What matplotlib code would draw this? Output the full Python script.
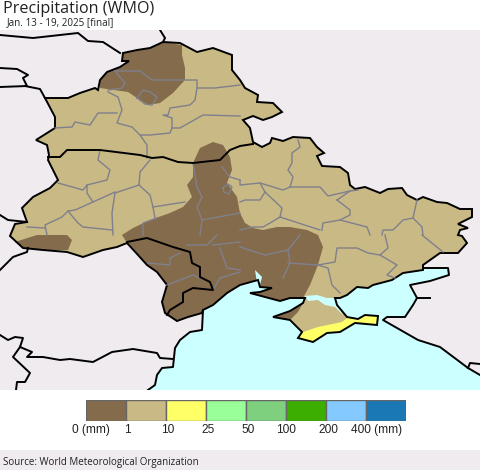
import matplotlib
matplotlib.use("Agg")
import matplotlib.pyplot as plt
from matplotlib.patches import Polygon, Rectangle

# map outlines (map pixel coordinates)
north_border = [(98,90),(100,80),(107,72),(120,67),(129,61),(122,61),(123,53),(137,50),(150,48),(163,42),(180,43),
    (197,52),(213,48),(232,55),(232,70),(240,80),(245,88),(258,95),(257,102),(273,103),(282,112),(272,117),(263,120),
    (253,116),(243,120),(250,128),(253,142),(262,147),(270,143),(272,138),(283,141),(293,137),(310,138),(317,147),
    (324,153),(317,156),(322,166),(340,167),(348,173),(350,185),(355,189),(365,187),(380,193),(388,189),(402,188),
    (407,195),(417,200),(423,197),(437,202),(447,203),(460,209),(472,209),(472,217),(458,224),(468,228),(460,230),
    (458,235),(462,236),(467,243),(458,253),(440,253),(423,265),(423,270)]
azov_coast = [(403,273),(392,280),(373,285),(368,288),(357,287),(347,295),(340,298),(335,298)]
crimea_coast = [(337,305),(347,317),(358,319),(365,315),(378,316),(377,325),(355,323),(340,332),(327,333),(313,342),
    (298,338),(302,332),(290,320),(273,317),(290,311),(303,303),(305,298)]
south_coast = [(290,298),(280,301),(265,297),(250,293),(260,292),(272,288),(260,287),(258,280),(240,285),(227,293),
    (213,305),(203,310),(202,313),(188,317),(177,321),(165,313),(162,302),(167,285)]
west_border = [(157,272),(147,265),(138,255),(127,243),(117,247),(103,250),(83,257),(67,252),(43,250),(23,248),(10,236),
    (15,224),(27,222),(22,208),(33,197),(50,188),(58,180),(48,160),(49,155),(47,145),(36,140),(55,128),(55,117),(45,98),
    (68,98),(80,93),(95,88)]

sea_west = [(148,390),(155,385),(157,375),(162,368),(173,367),(175,348),(180,340),(190,332),(202,330),(203,310)]
sea_inland = [(250,280),(300,280),(350,280),(423,265)]
taganrog_bay = [(423,268),(448,268),(449,275),(430,281),(410,285)]
azov_east = [(417,298),(413,305),(405,317),(387,317),(383,320)]
sea_east = [(397,328),(418,340),(440,347),(468,368),(480,375),(480,390)]

brown_north = [(100,88),(128,92),(137,98),(148,105),(160,103),(173,93),(185,80),(185,68),(182,55),(182,45),(163,42),
    (150,48),(137,50),(123,53),(122,61),(129,61),(120,67),(107,72),(100,80)]
brown_centre = [(193,163),(200,148),(213,142),(223,145),(230,157),(232,170),(227,183),(237,197),(240,213),(245,223),
    (253,228),(263,230),(277,227),(290,227),(307,230),(318,235),(323,247),(318,265),(310,285),(303,298),(290,298),
    (280,301),(265,297),(250,293),(260,292),(272,288),(260,287),(258,280),(240,285),(227,293),(213,305),(203,310),
    (202,313),(188,317),(177,321),(165,313),(162,302),(167,285),(157,272),(147,265),(138,255),(127,243),(122,235),
    (133,228),(150,220),(170,213),(183,207),(192,197),(187,185),(193,177)]
brown_sw = [(15,242),(37,235),(67,235),(72,240),(68,250),(43,250),(23,248)]
brown_crimea = [(273,317),(290,311),(303,303),(298,312),(290,320)]
yellow_crimea = [(303,332),(318,327),(342,322),(347,318),(358,319),(365,315),(378,316),(377,325),(355,323),(340,332),
    (327,333),(313,342),(298,338)]
sivash = [(305,296),(317,295),(327,298),(335,298),(339,307),(343,315),(335,307),(325,305),(318,300),(308,301)]
estuary = [(255,270),(262,277),(260,285),(257,283)]

# other country borders outside the coloured area
black_lines = [
    [(0,35),(33,38),(78,33),(88,41),(103,42),(120,53)],
    [(160,30),(165,38),(163,42)],
    [(0,68),(17,69),(28,75),(23,78),(27,86),(0,87)],
    [(25,86),(40,89),(45,98)],
    [(0,215),(8,220),(27,222)],
    [(0,270),(7,263),(13,257),(27,252),(28,248)],
    [(0,335),(8,340),(15,337),(23,338),(20,347),(32,352),(27,357),(43,357),(60,360),(70,359),(93,362),(112,352),
     (133,349),(157,353),(160,358),(173,359)],
    [(20,347),(13,357),(30,373),(25,382),(17,382),(16,390)],
    [(468,368),(470,363),(480,364)],
    [(48,157),(60,157),(67,150),(100,150),(140,155),(152,158),(163,157),(178,162),(193,163),(220,160),(230,150),(240,146),(253,144)],
    [(127,242),(147,238),(173,247),(190,252),(192,263),(200,267),(200,277),(210,282),(213,290),(193,288),(183,293),
     (183,302),(170,310),(167,315)],
    [(423,268),(448,268),(449,275),(430,281),(410,285),(417,298),(430,298)],
    [(417,298),(413,305),(405,317),(387,317),(383,320),(397,328),(418,340),(440,347),(468,368),(480,375)],
]

# oblast borders
grey_lines = [
    [(115,71),(140,71),(152,80),(182,80),(197,80),(197,88),(215,88),(240,85)],
    [(115,71),(125,83),(122,88),(108,90)],
    [(137,98),(143,90),(150,92),(157,97),(152,105),(145,104),(137,98)],
    [(197,88),(195,100),(190,105),(170,108),(168,115),(163,115),(172,118),(172,128),(180,128),(203,115),(240,116)],
    [(108,92),(118,97),(122,110),(117,123),(132,127),(140,135),(150,135),(170,133),(172,128)],
    [(55,128),(72,127),(75,122),(90,125),(98,113),(117,113)],
    [(140,135),(147,145),(147,158)],
    [(100,150),(98,160),(110,170),(107,180),(87,185),(87,193),(93,202),(75,210),(68,211),(62,217),(45,225),(47,235)],
    [(58,183),(83,190),(87,185)],
    [(150,160),(140,172),(139,185),(115,193),(112,213),(113,235)],
    [(93,202),(115,192)],
    [(139,185),(150,195),(153,207),(155,218)],
    [(153,207),(185,202)],
    [(68,211),(78,223),(83,227),(112,230)],
    [(27,227),(45,228)],
    [(193,163),(197,187),(202,197),(197,207),(202,220),(200,235)],
    [(202,220),(240,213)],
    [(222,167),(230,177),(240,180)],
    [(223,188),(228,184),(232,187),(229,194),(224,192),(223,188)],
    [(143,235),(143,223),(157,218)],
    [(298,140),(300,147),(292,153),(292,163),(288,170),(293,177),(290,187),(283,190),(260,183),(240,185),(240,180)],
    [(290,187),(320,187),(328,196),(350,191),(358,190)],
    [(260,183),(265,192),(282,208),(280,217),(320,230)],
    [(337,200),(350,210),(350,215),(340,220),(323,223),(322,230)],
    [(340,220),(367,227),(370,235)],
    [(337,200),(350,191)],
    [(417,200),(413,218),(422,227),(423,235)],
    [(413,218),(403,220),(393,230),(383,230),(382,235)],
    [(265,192),(260,200),(245,200),(240,202)],
    [(280,217),(270,223),(263,227),(253,227),(240,230)],
    [(240,247),(265,255),(288,250),(290,263),(283,278)],
    [(288,263),(318,265)],
    [(318,265),(328,268),(332,285),(340,293)],
    [(318,265),(335,262),(337,248),(357,248),(368,253),(380,255),(397,265),(387,275),(395,278)],
    [(380,255),(388,248),(385,235)],
    [(422,235),(443,252)],
    [(288,250),(300,235)],
    [(148,263),(170,265),(170,258),(180,253)],
    [(167,285),(193,275),(200,278)],
    [(187,245),(207,245),(217,235)],
    [(213,245),(240,242)],
    [(220,248),(227,268),(240,270)],
    [(213,290),(220,278),(240,272)],
]

# legend
bin_colors = ['#846b4c', '#c8b985', '#ffff66', '#99ff99', '#7ecf7e', '#3cae00', '#84c9ff', '#1a78b4']
bin_labels = ['0 (mm)', '1', '10', '25', '50', '100', '200', '400 (mm)']

LAND = '#efebef'
SEA = '#ccffff'
BROWN = bin_colors[0]
TAN = bin_colors[1]
YELLOW = bin_colors[2]
GREY = '#80808c'
BLACK_LW = 1.4

plt.rcParams['font.family'] = ['Open Sans', 'DejaVu Sans']

fig = plt.figure(figsize=(4.8, 4.7), dpi=100)
W, H = 480.0, 470.0

# footer band
fig.patches.append(Rectangle((0, 0), 1, 20/H, transform=fig.transFigure, color=LAND, lw=0))

ax = fig.add_axes([0, 80/H, 1, 360/H])
ax.set_xlim(0, 480)
ax.set_ylim(390, 30)
ax.axis('off')
ax.add_patch(Rectangle((0, 30), 480, 360, color=LAND, lw=0))

# sea runs under the land, the coloured polygon covers the inland part
sea = sea_west + sea_inland + taganrog_bay + azov_east + sea_east
ax.add_patch(Polygon(sea, color=SEA, lw=0))

ukraine = north_border + azov_coast + crimea_coast + south_coast + west_border
ax.add_patch(Polygon(ukraine, color=TAN, lw=0))
for shape in [brown_north, brown_centre, brown_sw, brown_crimea]:
    ax.add_patch(Polygon(shape, color=BROWN, lw=0))
ax.add_patch(Polygon(yellow_crimea, color=YELLOW, lw=0))
for shape in [sivash, estuary]:
    ax.add_patch(Polygon(shape, color=SEA, lw=0))

for line in grey_lines:
    ax.plot(*zip(*line), color=GREY, lw=1.0)

ax.add_patch(Polygon(ukraine, fill=False, ec='black', lw=BLACK_LW))
for line in black_lines:
    ax.plot(*zip(*line), color='black', lw=BLACK_LW)
ax.plot(*zip(*sea_west), color='black', lw=BLACK_LW)

# colour key
cax = fig.add_axes([86/W, (H-421)/H, 320/W, 21/H])
cax.bar(range(len(bin_colors)), [1]*len(bin_colors), width=1, align='edge', color=bin_colors, edgecolor='#666666', lw=1)
cax.set_xlim(0, 8)
cax.set_ylim(0, 1)
cax.axis('off')
label_px = [91, 127, 168, 208, 248, 286, 328, 377]
for px, label in zip(label_px, bin_labels):
    fig.text(px/W, (H-430)/H, label, ha='center', va='center', fontsize=8.6,
             family=['Liberation Sans', 'DejaVu Sans'], color='#222222')

fig.text(3/W, (H-9)/H, 'Precipitation (WMO)', ha='left', va='center', fontsize=11.6, color='#222222')
fig.text(7/W, (H-23)/H, 'Jan. 13 - 19, 2025 [final]', ha='left', va='center', fontsize=7.1, color='#222222')
fig.text(3/W, (H-462)/H, 'Source: World Meteorological Organization', ha='left', va='center', fontsize=7.0, color='#222222')

fig.savefig('out.png', dpi=100)
